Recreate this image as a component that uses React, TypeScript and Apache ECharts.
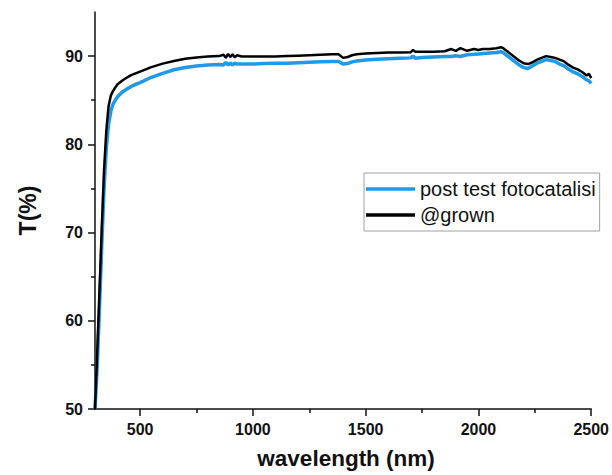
import React, { useEffect, useRef } from "react";
import * as echarts from "echarts";

const wavelengths = [300,310,320,330,340,350,360,370,375,380,390,400,420,440,460,480,500,550,600,650,700,750,800,850,870,880,890,900,910,920,930,950,1000,1050,1100,1150,1200,1250,1300,1350,1380,1400,1420,1440,1460,1500,1550,1600,1650,1700,1710,1720,1750,1800,1850,1880,1900,1920,1950,1980,2000,2020,2050,2080,2100,2110,2120,2140,2160,2180,2200,2220,2240,2260,2280,2300,2320,2340,2360,2380,2400,2420,2440,2460,2480,2490,2500];

const grown = [50,56.5,63.5,70.5,77,81.5,84.3,85.5,85.8,86.05,86.45,86.8,87.2,87.55,87.85,88.05,88.25,88.75,89.15,89.45,89.7,89.85,89.95,90.0,90.15,89.8,90.25,89.9,90.2,89.85,90.1,89.95,89.95,89.95,89.95,90.0,90.05,90.1,90.15,90.2,90.2,89.8,89.9,90.1,90.2,90.3,90.35,90.4,90.4,90.45,90.7,90.5,90.5,90.5,90.55,90.8,90.6,90.9,90.6,90.8,90.7,90.8,90.8,90.9,91.0,90.9,90.7,90.3,89.9,89.5,89.2,89.1,89.3,89.6,89.8,90.0,89.9,89.8,89.6,89.4,89.0,88.7,88.5,88.2,87.8,88.0,87.5];

const postTest = [50,55,61.5,68.5,75,79.5,82.3,83.7,84.2,84.55,85.0,85.4,85.9,86.25,86.55,86.8,87.0,87.6,88.05,88.45,88.7,88.88,89.0,89.05,89.0,89.3,89.0,89.2,89.0,89.2,89.1,89.1,89.1,89.15,89.2,89.2,89.25,89.3,89.35,89.4,89.4,89.1,89.15,89.35,89.45,89.55,89.65,89.7,89.75,89.8,90.0,89.75,89.85,89.9,89.95,89.95,90.05,89.95,90.15,90.2,90.25,90.3,90.35,90.4,90.5,90.4,90.2,89.8,89.4,89.0,88.7,88.6,88.9,89.2,89.4,89.6,89.5,89.4,89.1,88.9,88.5,88.2,88.0,87.7,87.3,87.2,86.9];

const xMajorTicks = [500, 1000, 1500, 2000, 2500];
const xMinorTicks = [750, 1250, 1750, 2250];
const yMajorTicks = [50, 60, 70, 80, 90];
const yMinorTicks = [55, 65, 75, 85];
const seriesNames = ["post test fotocatalisi", "@grown"];

export default function App() {
  const ref = useRef<HTMLDivElement>(null);
  useEffect(() => {
    if (!ref.current) return;
    const chart = echarts.init(ref.current, null, { renderer: "svg" });
    const font = "Liberation Sans, Arial, sans-serif";
    const axisColor = "#111";
    const tickStyle = { color: axisColor, width: 1.5 };
    const labelStyle = { fontFamily: font, fontSize: 16, fontWeight: "bold", color: axisColor };
    chart.setOption({
      animation: false,
      backgroundColor: "#ffffff",
      grid: { left: 95, right: 20, top: 12, bottom: 63 },
      legend: {
        orient: "vertical",
        left: 364,
        top: 173,
        data: [
          { name: seriesNames[0], icon: "rect", itemStyle: { color: "#1e9ae8" } },
          { name: seriesNames[1], icon: "rect", itemStyle: { color: "#000" } },
        ],
        itemWidth: 49,
        itemHeight: 3.5,
        itemGap: 4,
        padding: [5, 4, 5, 2],
        borderColor: "#a0a0a0",
        borderWidth: 1,
        textStyle: { fontFamily: font, fontSize: 20, color: "#111", lineHeight: 22 },
      },
      xAxis: [
        {
          type: "value",
          min: 300,
          max: 2500,
          name: "wavelength (nm)",
          nameLocation: "middle",
          nameGap: 38,
          nameTextStyle: { fontFamily: font, fontSize: 22.5, fontWeight: "bold", color: axisColor, padding: [0, 0, 0, 6] },
          axisLine: { show: true, lineStyle: { color: axisColor, width: 1.5 } },
          axisTick: { show: true, length: 7, customValues: xMajorTicks, lineStyle: tickStyle },
          axisLabel: { ...labelStyle, customValues: xMajorTicks, margin: 12, formatter: (v: number) => String(v) },
          splitLine: { show: false },
        },
        {
          type: "value",
          min: 300,
          max: 2500,
          position: "bottom",
          axisLine: { show: false },
          axisTick: { show: true, length: 4, customValues: xMinorTicks, lineStyle: tickStyle },
          axisLabel: { show: false },
          splitLine: { show: false },
        },
      ],
      yAxis: [
        {
          type: "value",
          min: 50,
          max: 95,
          name: "T(%)",
          nameLocation: "middle",
          nameGap: 56,
          nameTextStyle: { fontFamily: font, fontSize: 23, fontWeight: "bold", color: axisColor },
          axisLine: { show: true, lineStyle: { color: axisColor, width: 1.5 } },
          axisTick: { show: true, length: 7, customValues: yMajorTicks, lineStyle: tickStyle },
          axisLabel: { ...labelStyle, customValues: yMajorTicks, margin: 12 },
          splitLine: { show: false },
        },
        {
          type: "value",
          min: 50,
          max: 95,
          position: "left",
          axisLine: { show: false },
          axisTick: { show: true, length: 4, customValues: yMinorTicks, lineStyle: tickStyle },
          axisLabel: { show: false },
          splitLine: { show: false },
        },
      ],
      series: [
        {
          name: seriesNames[0],
          type: "line",
          showSymbol: false,
          xAxisIndex: 0,
          yAxisIndex: 0,
          data: wavelengths.map((w, i) => [w, postTest[i]]),
          lineStyle: { color: "#1e9ae8", width: 3.5 },
          itemStyle: { color: "#1e9ae8" },
        },
        {
          name: seriesNames[1],
          type: "line",
          showSymbol: false,
          xAxisIndex: 0,
          yAxisIndex: 0,
          data: wavelengths.map((w, i) => [w, grown[i]]),
          lineStyle: { color: "#000", width: 2.5 },
          itemStyle: { color: "#000" },
        },
      ],
    });
    return () => chart.dispose();
  }, []);
  return <div ref={ref} style={{ position: "fixed", left: 0, top: 0, width: 612, height: 475 }} />;
}
